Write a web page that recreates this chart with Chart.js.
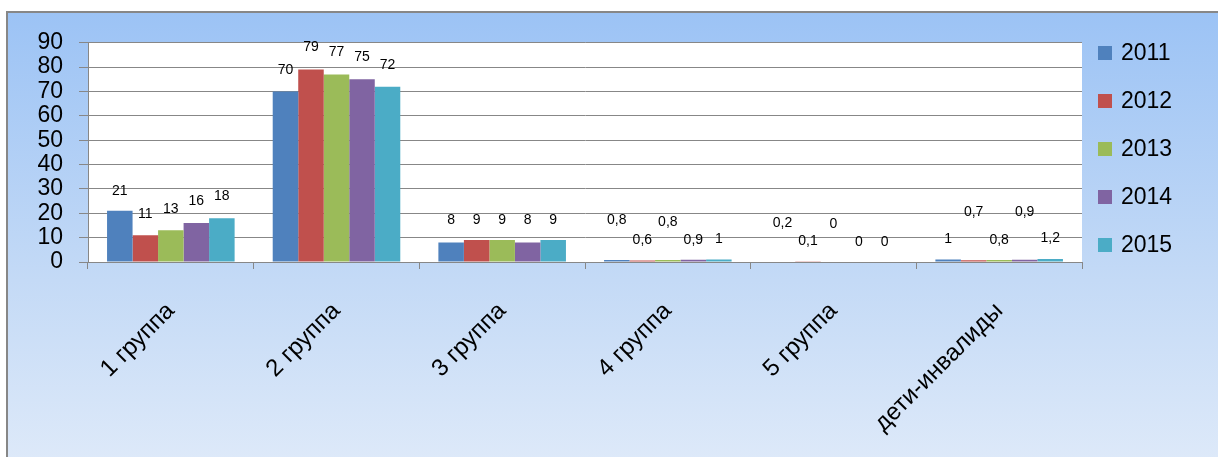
<!DOCTYPE html>
<html>
<head>
<meta charset="utf-8">
<script src="https://cdn.jsdelivr.net/npm/chart.js@4"></script>
<style>
    body { margin: 0; background: #fff; width: 1218px; height: 457px; overflow: hidden; position: relative; }
    #frame {
        position: absolute; left: 6px; top: 11px; width: 1212px; height: 446px;
        border-top: 2px solid #878787; border-left: 2px solid #878787;
        background: linear-gradient(to bottom, #9cc3f5 0%, #c4daf6 60%, #dde9f9 100%);
    }
    #wrap { position: absolute; left: 0; top: 0; width: 1208px; height: 444px; }
</style>
</head>
<body>
<div id="frame"><div id="wrap"><canvas id="chart"></canvas></div></div>
<script>
// Kategorien und Werte
const categories = ['1 группа', '2 группа', '3 группа', '4 группа', '5 группа', 'дети-инвалиды'];
const years = ['2011', '2012', '2013', '2014', '2015'];
const values2011 = [21, 70, 8, 0.8, 0.2, 1];
const values2012 = [11, 79, 9, 0.6, 0.1, 0.7];
const values2013 = [13, 77, 9, 0.8, 0, 0.8];
const values2014 = [16, 75, 8, 0.9, 0, 0.9];
const values2015 = [18, 72, 9, 1, 0, 1.2];
const yTicks = [0, 10, 20, 30, 40, 50, 60, 70, 80, 90];

const colors = ['#4f81bd', '#c0504d', '#9bbb59', '#8064a2', '#4bacc6'];
// Abstand der Beschriftung über dem Balken (px), wie im Original verschoben
const labelLift = [
    [20, 21, 22, 40, 38, 20],
    [21, 22, 20, 20, 21, 48],
    [21, 22, 20, 38, 38, 20],
    [22, 22, 22, 20, 20, 48],
    [22, 21, 20, 20, 20, 21]
];
const FONT = '"Liberation Sans", Arial, sans-serif';

const series = [values2011, values2012, values2013, values2014, values2015];

// Weißer Hintergrund der Zeichenfläche
const plotBackground = {
    id: 'plotBackground',
    beforeDraw(chart) {
        const a = chart.chartArea;
        const ctx = chart.ctx;
        ctx.save();
        ctx.fillStyle = '#ffffff';
        ctx.fillRect(a.left, a.top, a.right - a.left, a.bottom - a.top);
        ctx.restore();
    }
};

// Wertbeschriftungen
const valueLabels = {
    id: 'valueLabels',
    afterDatasetsDraw(chart) {
        const ctx = chart.ctx;
        ctx.save();
        ctx.font = '14px ' + FONT;
        ctx.fillStyle = '#000';
        ctx.textAlign = 'center';
        ctx.textBaseline = 'middle';
        chart.data.datasets.forEach((ds, d) => {
            chart.getDatasetMeta(d).data.forEach((bar, i) => {
                const text = String(ds.data[i]).replace('.', ',');
                ctx.fillText(text, bar.x, bar.y - labelLift[d][i]);
            });
        });
        ctx.restore();
    }
};

// Legende rechts
const sideLegend = {
    id: 'sideLegend',
    afterDraw(chart) {
        const ctx = chart.ctx;
        const x = chart.chartArea.right + 16;
        ctx.save();
        ctx.font = '23px ' + FONT;
        ctx.textBaseline = 'middle';
        ctx.textAlign = 'left';
        chart.data.datasets.forEach((ds, i) => {
            const y = 40 + i * 48;
            ctx.fillStyle = ds.backgroundColor;
            ctx.fillRect(x, y - 7, 14, 14);
            ctx.fillStyle = '#000';
            ctx.fillText(ds.label, x + 23, y + 1);
        });
        ctx.restore();
    }
};

const ctx = document.getElementById('chart').getContext('2d');
const chart = new Chart(ctx, {
    type: 'bar',
    data: {
        labels: categories,
        datasets: years.map((y, i) => ({
            label: y,
            data: series[i],
            backgroundColor: colors[i],
            borderWidth: 0,
            categoryPercentage: 0.77,
            barPercentage: 1.0
        }))
    },
    options: {
        responsive: true,
        maintainAspectRatio: false,
        animation: false,
        layout: {
            padding: { top: 29, right: 134, left: 0, bottom: 0 }
        },
        plugins: {
            legend: { display: false },
            tooltip: { enabled: false }
        },
        scales: {
            x: {
                grid: {
                    offset: true,
                    drawOnChartArea: false,
                    tickLength: 7,
                    color: '#878787'
                },
                border: { color: '#878787' },
                ticks: {
                    minRotation: 45,
                    maxRotation: 45,
                    padding: 28,
                    color: '#000',
                    font: { size: 24, family: FONT }
                },
                afterFit(scale) { scale.height = 195; }
            },
            y: {
                min: 0,
                max: 90,
                afterBuildTicks(scale) {
                    scale.ticks = yTicks.map(v => ({ value: v }));
                },
                grid: {
                    color: '#878787',
                    tickLength: 9
                },
                border: { color: '#878787' },
                ticks: {
                    autoSkip: false,
                    padding: 16,
                    color: '#000',
                    font: { size: 23, family: FONT }
                },
                afterFit(scale) { scale.width = 80; }
            }
        }
    },
    plugins: [plotBackground, valueLabels, sideLegend]
});
</script>
</body>
</html>
